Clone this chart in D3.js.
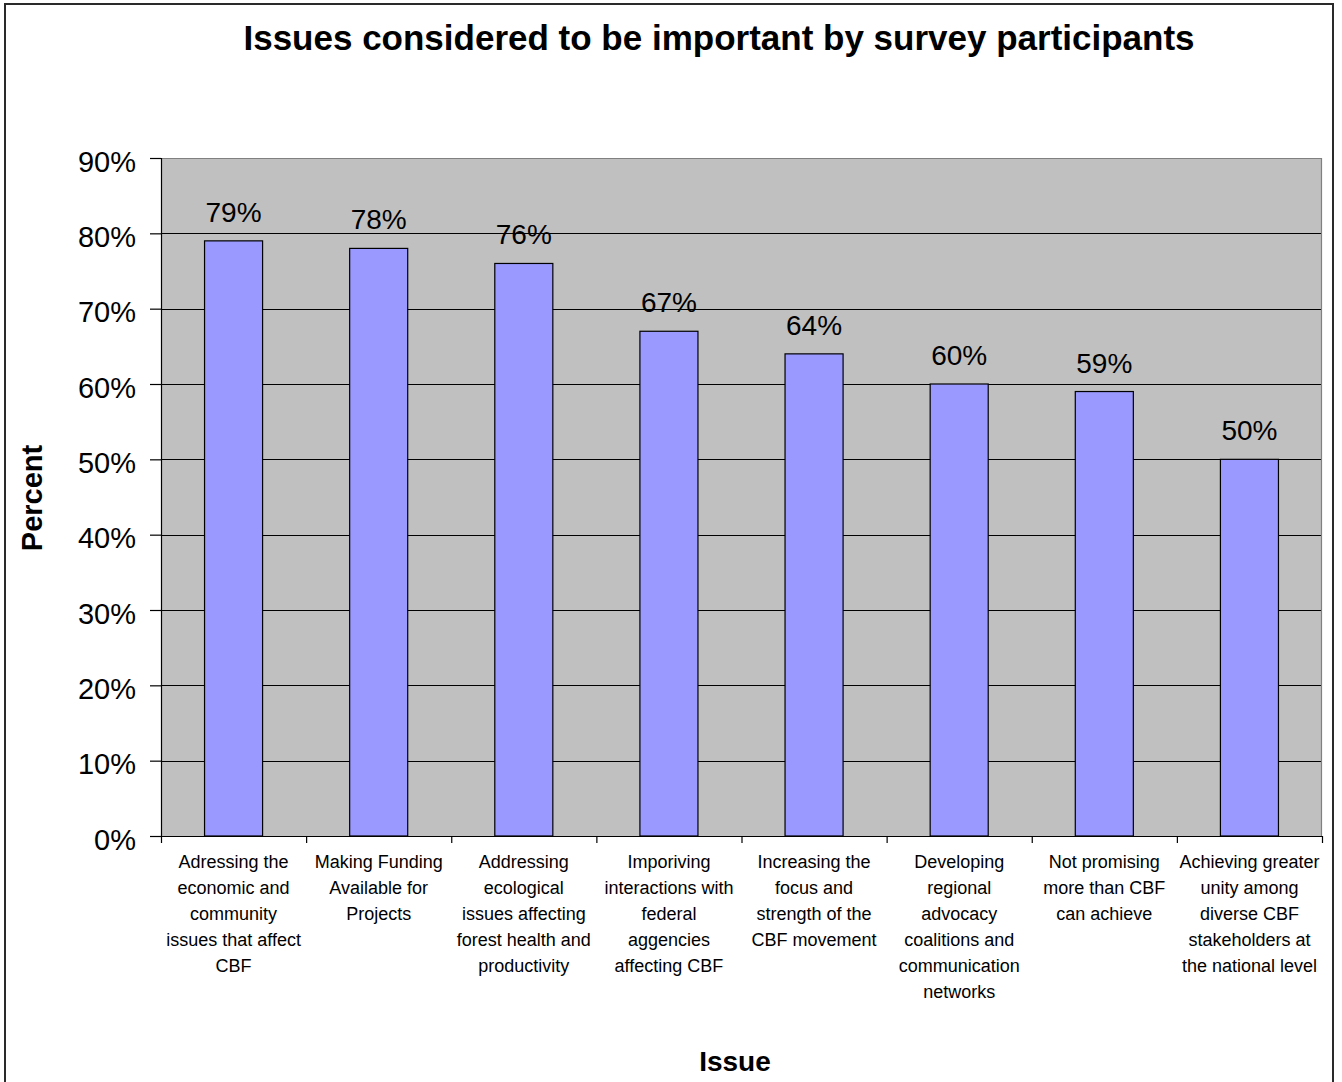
<!DOCTYPE html>
<html>
<head>
<meta charset="utf-8">
<script src="https://cdn.jsdelivr.net/npm/d3@7"></script>
<style>
  html, body { margin: 0; padding: 0; background: #ffffff; }
  svg { display: block; font-family: "Liberation Sans", Arial, sans-serif; }
</style>
</head>
<body>
<svg id="chart" width="1342" height="1082"></svg>
<script>
// Survey results: share of participants rating each issue as important
const categories = [
  "Adressing the\neconomic and\ncommunity\nissues that affect\nCBF",
  "Making Funding\nAvailable for\nProjects",
  "Addressing\necological\nissues affecting\nforest health and\nproductivity",
  "Imporiving\ninteractions with\nfederal\naggencies\naffecting CBF",
  "Increasing the\nfocus and\nstrength of the\nCBF movement",
  "Developing\nregional\nadvocacy\ncoalitions and\ncommunication\nnetworks",
  "Not promising\nmore than CBF\ncan achieve",
  "Achieving greater\nunity among\ndiverse CBF\nstakeholders at\nthe national level"
];
const percentValues = [0.79, 0.78, 0.76, 0.67, 0.64, 0.60, 0.59, 0.50];
const yTickValues = [0, 0.1, 0.2, 0.3, 0.4, 0.5, 0.6, 0.7, 0.8, 0.9];

const chartTitle = "Issues considered to be important by survey participants";
const yAxisTitle = "Percent";
const xAxisTitle = "Issue";

const svg = d3.select("#chart");
const W = 1342, H = 1082;
const plot = { left: 161, top: 158, right: 1322, bottom: 836 };

// outer chart frame
svg.append("rect")
  .attr("x", 5).attr("y", 4)
  .attr("width", 1328).attr("height", H + 10)
  .attr("fill", "#ffffff")
  .attr("stroke", "#2a2a2a")
  .attr("stroke-width", 2);

const x = d3.scaleBand()
  .domain(d3.range(categories.length))
  .range([plot.left, plot.right])
  .paddingInner(0.6)
  .paddingOuter(0.3);

const xBounds = d3.scaleLinear()
  .domain([0, categories.length])
  .range([plot.left, plot.right]);

const y = d3.scaleLinear()
  .domain([0, 0.9])
  .range([plot.bottom, plot.top]);

// plot background
svg.append("rect")
  .attr("x", plot.left).attr("y", plot.top)
  .attr("width", plot.right - plot.left)
  .attr("height", plot.bottom - plot.top)
  .attr("fill", "#c0c0c0");

// horizontal gridlines
svg.append("g")
  .selectAll("line")
  .data(yTickValues.filter(v => v > 0 && v < 0.9))
  .join("line")
  .attr("x1", plot.left).attr("x2", plot.right)
  .attr("y1", d => Math.round(y(d)) + 0.5)
  .attr("y2", d => Math.round(y(d)) + 0.5)
  .attr("stroke", "#000000")
  .attr("stroke-width", 1);

// plot area border (top and right)
svg.append("path")
  .attr("d", `M${plot.left},${plot.top + 0.5}H${plot.right - 0.5}V${plot.bottom}`)
  .attr("fill", "none")
  .attr("stroke", "#808080")
  .attr("stroke-width", 1.2);

// bars
svg.append("g")
  .selectAll("rect")
  .data(percentValues)
  .join("rect")
  .attr("x", (d, i) => x(i))
  .attr("y", d => y(d))
  .attr("width", x.bandwidth())
  .attr("height", d => plot.bottom - y(d))
  .attr("fill", "#9999ff")
  .attr("stroke", "#000000")
  .attr("stroke-width", 1.2);

// value labels
const fmtPct = d3.format(".0%");
svg.append("g")
  .selectAll("text")
  .data(percentValues)
  .join("text")
  .attr("x", (d, i) => x(i) + x.bandwidth() / 2)
  .attr("y", d => y(d) - 19)
  .attr("text-anchor", "middle")
  .attr("font-size", 28)
  .attr("fill", "#000")
  .text(d => fmtPct(d));

// y axis
const yAxis = d3.axisLeft(y)
  .tickValues(yTickValues)
  .tickSize(11)
  .tickPadding(14)
  .tickFormat(fmtPct);

const gy = svg.append("g")
  .attr("transform", `translate(${plot.left},0)`)
  .call(yAxis);
gy.select(".domain").attr("stroke", "#000").attr("stroke-width", 1.2);
gy.selectAll(".tick line").attr("stroke", "#000").attr("stroke-width", 1.2);
gy.selectAll(".tick text")
  .attr("font-size", 29)
  .attr("font-family", "Liberation Sans, Arial, sans-serif")
  .attr("fill", "#000")
  .attr("dy", "0.45em");

// x axis: ticks at category boundaries
const gx = svg.append("g")
  .attr("transform", `translate(0,${plot.bottom})`)
  .call(d3.axisBottom(xBounds)
    .tickValues(d3.range(categories.length + 1))
    .tickSize(7)
    .tickSizeOuter(0)
    .tickFormat(""));
gx.select(".domain").attr("stroke", "#000").attr("stroke-width", 1.2);
gx.selectAll(".tick line").attr("stroke", "#000").attr("stroke-width", 1.2);

// category labels
const catG = svg.append("g")
  .attr("font-size", 18)
  .attr("fill", "#000")
  .attr("text-anchor", "middle");
categories.forEach((label, i) => {
  const t = catG.append("text")
    .attr("x", x(i) + x.bandwidth() / 2)
    .attr("y", 868);
  label.split("\n").forEach((line, k) => {
    t.append("tspan")
      .attr("x", x(i) + x.bandwidth() / 2)
      .attr("y", 868 + k * 26)
      .text(line);
  });
});

// titles
svg.append("text")
  .attr("x", 719).attr("y", 50)
  .attr("text-anchor", "middle")
  .attr("font-size", 35)
  .attr("font-weight", "bold")
  .attr("fill", "#000")
  .text(chartTitle);

svg.append("text")
  .attr("transform", "translate(42,498) rotate(-90)")
  .attr("text-anchor", "middle")
  .attr("font-size", 29)
  .attr("font-weight", "bold")
  .attr("fill", "#000")
  .text(yAxisTitle);

svg.append("text")
  .attr("x", 735).attr("y", 1071)
  .attr("text-anchor", "middle")
  .attr("font-size", 28)
  .attr("font-weight", "bold")
  .attr("fill", "#000")
  .text(xAxisTitle);
</script>
</body>
</html>
